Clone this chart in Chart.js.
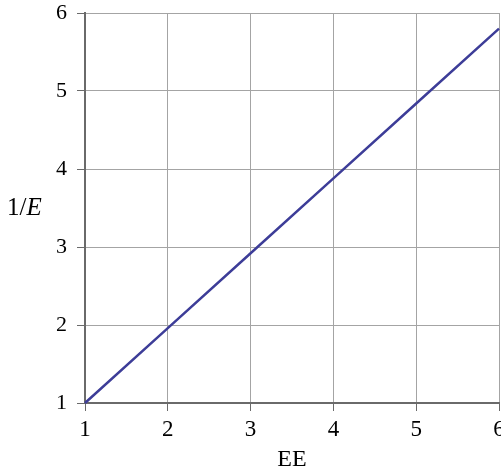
<!DOCTYPE html>
<html>
<head>
<meta charset="utf-8">
<script src="https://cdn.jsdelivr.net/npm/chart.js@4/dist/chart.umd.min.js"></script>
<style>
  html, body { margin: 0; padding: 0; background: #fff; }
  #wrap { width: 501px; height: 471px; position: relative; }
</style>
</head>
<body>
<div id="wrap"><canvas id="c"></canvas></div>
<script>
// E_E values along the x axis and the matching 1/E values
const eeValues = [1, 2, 3, 4, 5, 6];
const invEValues = [1, 1.96, 2.92, 3.88, 4.84, 5.8];
const xTicks = [1, 2, 3, 4, 5, 6];
const yTicks = [1, 2, 3, 4, 5, 6];
const xTitle = 'EE';
const yTitleParts = [['1/', 'normal'], ['E', 'italic']];

const serif = '"Liberation Serif", "Times New Roman", serif';
const gridColor = '#a4a4a4';
const axisColor = '#6a6a6a';

// Axis titles: x title centred under the plot, y title written horizontally at the left
const axisTitles = {
  id: 'axisTitles',
  afterDraw(chart) {
    const ctx = chart.ctx;
    const area = chart.chartArea;
    ctx.save();
    ctx.fillStyle = '#000';
    ctx.textBaseline = 'middle';
    ctx.font = '24px ' + serif;
    ctx.textAlign = 'center';
    ctx.fillText(xTitle, (area.left + area.right) / 2, 460);

    ctx.textAlign = 'left';
    let x = 7;
    const y = 208;
    for (const [txt, style] of yTitleParts) {
      ctx.font = style + ' 25px ' + serif;
      ctx.fillText(txt, x, y);
      x += ctx.measureText(txt).width;
    }
    ctx.restore();
  }
};

new Chart(document.getElementById('c'), {
  type: 'scatter',
  data: {
    datasets: [{
      data: eeValues.map((v, i) => ({ x: v, y: invEValues[i] })),
      showLine: true,
      borderColor: '#3d3d98',
      borderWidth: 2.5,
      pointRadius: 0,
      tension: 0
    }]
  },
  options: {
    responsive: true,
    maintainAspectRatio: false,
    animation: false,
    clip: false,
    layout: { padding: { left: 0, right: 2, top: 13, bottom: 0 } },
    plugins: { legend: { display: false }, tooltip: { enabled: false } },
    scales: {
      x: {
        type: 'linear',
        min: 1, max: 6,
        afterBuildTicks(scale) { scale.ticks = xTicks.map(v => ({ value: v })); },
        afterFit(scale) { scale.height = 68; scale.paddingLeft = 0; scale.paddingRight = 0; },
        grid: { color: gridColor, lineWidth: 1, tickLength: 8, tickColor: axisColor },
        border: { color: axisColor, width: 2 },
        ticks: { color: '#000', font: { family: serif, size: 23 }, padding: 5, maxRotation: 0 }
      },
      y: {
        type: 'linear',
        min: 1, max: 6,
        afterBuildTicks(scale) { scale.ticks = yTicks.map(v => ({ value: v })); },
        afterFit(scale) { scale.width = 85; scale.paddingTop = 0; scale.paddingBottom = 0; },
        grid: { color: gridColor, lineWidth: 1, tickLength: 8, tickColor: axisColor },
        border: { color: axisColor, width: 2 },
        ticks: { color: '#000', font: { family: serif, size: 22 }, padding: 10 }
      }
    }
  },
  plugins: [axisTitles]
});
</script>
</body>
</html>
